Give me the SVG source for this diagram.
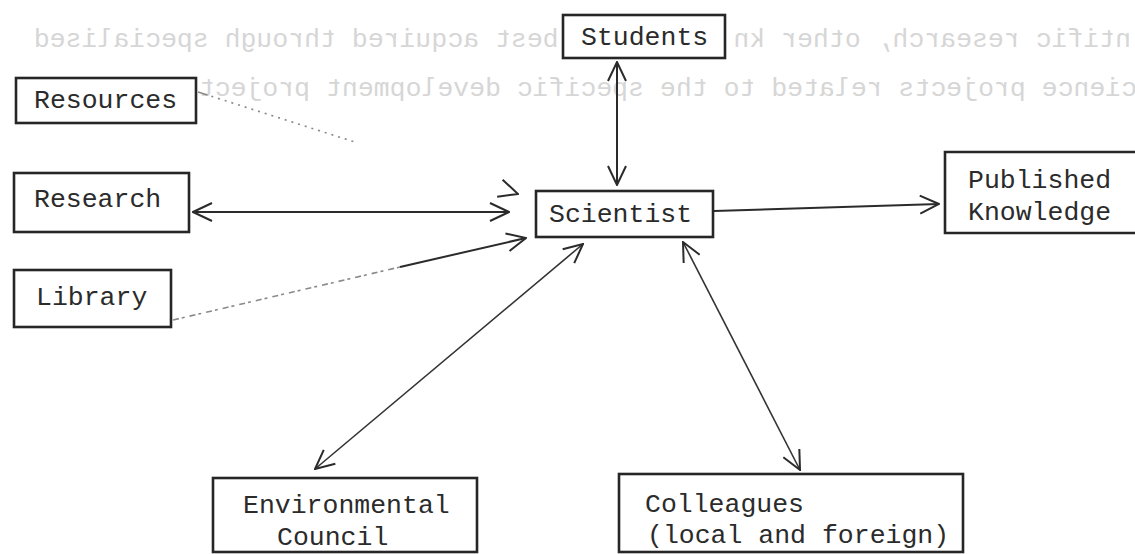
<svg xmlns="http://www.w3.org/2000/svg" width="1135" height="554" viewBox="0 0 1135 554">
<style>
.lbl{font-family:"Liberation Mono","DejaVu Sans Mono",monospace;font-size:26.5px;fill:#2b2b2b}
.ghost{font-family:"Liberation Mono","DejaVu Sans Mono",monospace;font-size:26.5px;fill:#d6d6d6}
.box{fill:none;stroke:#262626;stroke-width:2.6}
.ln{fill:none;stroke:#2b2b2b;stroke-width:2}
.thin{fill:none;stroke:#333;stroke-width:1.6}
.faint{fill:none;stroke:#8a8a8a;stroke-width:1.6}
</style>
<defs>
<marker id="ah" viewBox="0 0 22 22" refX="21" refY="11" markerWidth="22" markerHeight="22" markerUnits="userSpaceOnUse" orient="auto-start-reverse">
<path d="M2,2 L21,11 L2,20" fill="none" stroke="#2b2b2b" stroke-width="2"/>
</marker>
</defs>
<rect width="1135" height="554" fill="#ffffff"/>
<g id="show-through">
<text class="ghost" transform="scale(-1,1)" x="-1131" y="47">ntific research, other kn</text>
<text class="ghost" transform="scale(-1,1)" x="-558.6" y="47">best acquired through specialised</text>
<text class="ghost" transform="scale(-1,1)" x="-1137" y="96">cience projects related to the specific development project</text>
</g>
<g id="connectors">
<path class="ln" d="M617,62 L617,185" marker-start="url(#ah)" marker-end="url(#ah)"/>
<path class="ln" d="M714,211 L939,204" marker-end="url(#ah)"/>
<path class="ln" d="M193,212 L509,212" marker-start="url(#ah)" marker-end="url(#ah)"/>
<path class="faint" d="M198,92 L518,194" stroke-dasharray="10 4 2 5 2 5 2 5 2 5 2 5 2 5 2 5 2 5 2 5 2 5 2 5 2 5 2 5 2 5 2 5 2 5 2 5 2 5 2 5 2 5 2 5 2 5 0 300" marker-end="url(#ah)"/>
<g id="conn-library">
<path class="faint" d="M173,320 L400,267" stroke-dasharray="6 3 3 5"/>
<path class="ln" d="M400,267 L526,238" marker-end="url(#ah)"/>
</g>
<path class="thin" d="M583,244 L315,469" marker-start="url(#ah)" marker-end="url(#ah)"/>
<path class="thin" d="M683,242 L800,470" marker-start="url(#ah)" marker-end="url(#ah)"/>
</g>
<g id="node-students">
<rect class="box" x="563" y="15" width="162" height="43"/>
<text class="lbl" x="581" y="45">Students</text>
</g>
<g id="node-resources">
<rect class="box" x="16" y="78" width="180" height="45"/>
<text class="lbl" x="34" y="108">Resources</text>
</g>
<g id="node-research">
<rect class="box" x="14" y="173" width="175" height="59"/>
<text class="lbl" x="34" y="207">Research</text>
</g>
<g id="node-library">
<rect class="box" x="14" y="270" width="157" height="57"/>
<text class="lbl" x="36" y="305">Library</text>
</g>
<g id="node-scientist">
<rect class="box" x="536" y="191" width="177" height="46"/>
<text class="lbl" x="549" y="222">Scientist</text>
</g>
<g id="node-published">
<path class="box" d="M1135,152 L945,152 L945,233 L1135,233"/>
<text class="lbl" x="968" y="188">Published</text>
<text class="lbl" x="968" y="220">Knowledge</text>
</g>
<g id="node-environmental">
<rect class="box" x="213" y="478" width="264" height="74"/>
<text class="lbl" x="243" y="513">Environmental</text>
<text class="lbl" x="277" y="545">Council</text>
</g>
<g id="node-colleagues">
<rect class="box" x="619" y="474" width="344" height="78"/>
<text class="lbl" x="645" y="512">Colleagues</text>
<text class="lbl" x="647" y="543">(local and foreign)</text>
</g>
</svg>
